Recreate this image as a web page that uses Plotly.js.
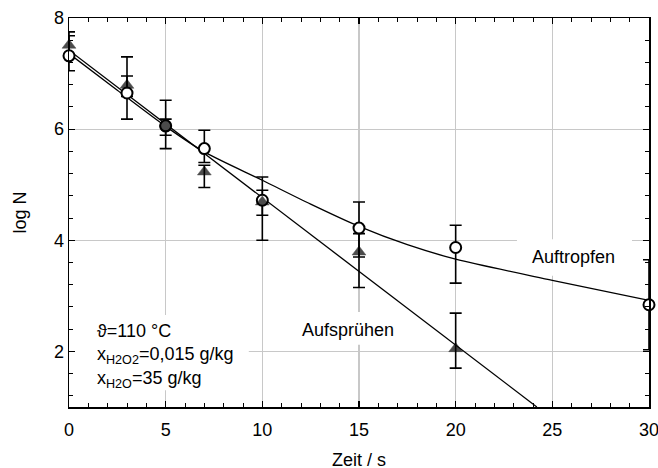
<!DOCTYPE html>
<html>
<head>
<meta charset="utf-8">
<script src="https://cdn.plot.ly/plotly-3.0.1.min.js"></script>
<style>html,body{margin:0;padding:0;background:#fff;}#chart{width:658px;height:468px;}</style>
</head>
<body>
<div id="chart"></div>
<script>
// Measured points: Auftropfen (open circles)
const tropfenX = [0, 3, 5, 7, 10, 15, 20, 30];
const tropfenY = [7.32, 6.65, 6.06, 5.65, 4.72, 4.22, 3.87, 2.84];
const tropfenErrPlus = [0.36, 0.305, 0.46, 0.33, 0.42, 0.47, 0.40, 0.81];
const tropfenErrMinus = [0.27, 0.47, 0.41, 0.25, 0.27, 0.52, 0.64, 0.81];

// Measured points: Aufsprühen (filled triangles)
const spruehX = [0, 3, 5, 7, 10, 15, 20];
const spruehY = [7.51, 6.79, 6.05, 5.23, 4.69, 3.79, 2.05];
const spruehErrPlus = [0.24, 0.51, 0.13, 0.12, 0.21, 0.33, 0.64];
const spruehErrMinus = [0.24, 0.20, 0.16, 0.28, 0.69, 0.64, 0.35];

// Model curves
const tropfenFitX = [0, 2.5, 5, 7, 10, 12.5, 15, 17.5, 20, 25, 30];
const tropfenFitY = [7.36, 6.70, 6.05, 5.59, 5.08, 4.65, 4.25, 3.92, 3.66, 3.28, 2.92];
const spruehFitX = [0, 24.2];
const spruehFitY = [7.42, 1.0];

const xTitle = 'Zeit / s';
const yTitle = 'log N';

const labelFont = {family: 'Liberation Sans, Arial, sans-serif', size: 18, color: '#000'};

const traces = [
  {x: tropfenFitX, y: tropfenFitY, mode: 'lines', line: {color: '#000', width: 1.3, shape: 'spline', smoothing: 0.8}, hoverinfo: 'skip'},
  {x: spruehFitX, y: spruehFitY, mode: 'lines', line: {color: '#000', width: 1.3}, hoverinfo: 'skip'},
  {x: spruehX, y: spruehY, mode: 'markers', marker: {color: 'rgba(0,0,0,0)', size: 1},
   error_y: {type: 'data', symmetric: false, array: spruehErrPlus, arrayminus: spruehErrMinus, color: '#000', thickness: 1.6, width: 6},
   cliponaxis: false, hoverinfo: 'skip'},
  {x: tropfenX, y: tropfenY, mode: 'markers',
   marker: {symbol: 'circle', size: 11, color: '#fff', line: {color: '#000', width: 2}},
   error_y: {type: 'data', symmetric: false, array: tropfenErrPlus, arrayminus: tropfenErrMinus, color: '#000', thickness: 1.6, width: 6},
   cliponaxis: false},
  {x: spruehX, y: spruehY, mode: 'markers',
   marker: {symbol: ['triangle-up', 'triangle-up', 'circle', 'triangle-up', 'triangle-up', 'triangle-up', 'triangle-up'], size: [12, 12, 12, 12, 12, 12, 12], color: '#000', line: {color: '#000', width: 0.5}},
   cliponaxis: false}
];

const layout = {
  width: 658, height: 468,
  margin: {l: 69, r: 9, t: 18, b: 61},
  paper_bgcolor: '#fff', plot_bgcolor: '#fff',
  showlegend: false,
  font: labelFont,
  xaxis: {
    range: [0, 30], dtick: 5, tick0: 0,
    ticks: 'inside', ticklen: 6, tickwidth: 1.2, tickcolor: '#000',
    showline: true, linecolor: '#000', linewidth: 1.5, mirror: 'allticks',
    showgrid: true, gridcolor: '#c8c8c8', gridwidth: 1.2, zeroline: false,
    minor: {dtick: 1, ticks: 'inside', ticklen: 4, tickcolor: '#000', tickwidth: 1, showgrid: false},
    tickfont: labelFont, ticklabeloverflow: 'allow', ticklabelstandoff: 6
  },
  yaxis: {
    range: [1, 8], dtick: 2, tick0: 0,
    ticks: 'inside', ticklen: 6, tickwidth: 1.2, tickcolor: '#000',
    showline: true, linecolor: '#000', linewidth: 1.5, mirror: 'allticks',
    showgrid: true, gridcolor: '#c8c8c8', gridwidth: 1.2, zeroline: false,
    minor: {dtick: 0.4, ticks: 'inside', ticklen: 4, tickcolor: '#000', tickwidth: 1, showgrid: false},
    tickfont: labelFont, ticklabeloverflow: 'allow',
    title: {text: yTitle, font: labelFont, standoff: 22}
  },
  shapes: [
    {type: 'rect', layer: 'between', xref: 'x', yref: 'y', x0: 23.17, x1: 29.12, y0: 3.36, y1: 4.02, fillcolor: '#fff', line: {width: 0}},
    {type: 'rect', layer: 'between', xref: 'x', yref: 'y', x0: 11.53, x1: 17.2, y0: 2.12, y1: 2.71, fillcolor: '#fff', line: {width: 0}},
    {type: 'rect', layer: 'between', xref: 'x', yref: 'y', x0: 0.3, x1: 9.3, y0: 1.30, y1: 2.655, fillcolor: '#fff', line: {width: 0}}
  ],
  annotations: [
    {x: 0.5, y: -0.136, xref: 'paper', yref: 'paper', text: xTitle, showarrow: false, xanchor: 'center', yanchor: 'middle', font: labelFont},
    {x: 26.1, y: 3.70, xref: 'x', yref: 'y', text: 'Auftropfen', showarrow: false, xanchor: 'center', yanchor: 'middle', font: labelFont},
    {x: 14.43, y: 2.385, xref: 'x', yref: 'y', text: 'Aufsprühen', showarrow: false, xanchor: 'center', yanchor: 'middle', font: labelFont},
    {x: 1.40, y: 1.91, xref: 'x', yref: 'y', showarrow: false, xanchor: 'left', yanchor: 'middle', align: 'left', borderpad: 0,
     text: 'ϑ=110 °C<br>x<sub>H2O2</sub>=0,015 g/kg<br>x<sub>H2O</sub>=35 g/kg', font: labelFont}
  ]
};

Plotly.newPlot('chart', traces, layout, {displayModeBar: false, staticPlot: true});
</script>
</body>
</html>
